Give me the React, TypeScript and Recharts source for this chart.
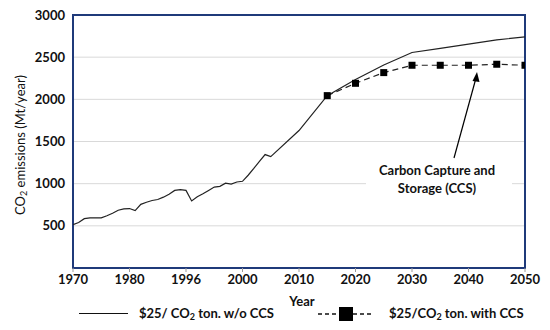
import React from 'react'
import { LineChart, Line, XAxis, YAxis, CartesianGrid, ReferenceArea, Customized } from 'recharts'

// historical + projection without CCS
const histYears = [
  1970, 1971, 1972, 1973, 1974, 1975, 1976, 1977, 1978, 1979, 1980, 1981, 1982, 1983, 1984,
  1985, 1986, 1987, 1988, 1989, 1990, 1991, 1992, 1993, 1994, 1995, 1996, 1997, 1998, 1999,
  2000, 2001, 2002, 2003, 2004, 2005, 2010, 2015, 2020, 2025, 2030, 2035, 2040, 2045, 2050,
]
const histValues = [
  515, 540, 585, 595, 595, 595, 620, 650, 685, 700, 705, 680, 755, 780, 800,
  812, 840, 875, 920, 930, 920, 795, 845, 880, 920, 960, 968, 1005, 995, 1020,
  1028, 1100, 1180, 1265, 1345, 1320, 1630, 2044, 2235, 2408, 2555, 2605, 2655, 2705, 2740,
]

// projection with CCS
const ccsYears = [2015, 2020, 2025, 2030, 2035, 2040, 2045, 2050]
const ccsValues = [2044, 2190, 2317, 2404, 2404, 2404, 2416, 2404]

const xTicks = [1970, 1980, 1990, 2000, 2010, 2020, 2030, 2040, 2050]
const xTickLabels = ['1970', '1980', '1996', '2000', '2010', '2020', '2030', '2040', '2050']
const yTicks = [0, 500, 1000, 1500, 2000, 2500, 3000]

const histData = histYears.map((year, i) => ({ year, value: histValues[i] }))
const ccsData = ccsYears.map((year, i) => ({ year, value: ccsValues[i] }))

const FONT = 'Lato, "Open Sans", sans-serif'

const SquareDot = (props: any) => {
  const { cx, cy, index } = props
  if (cx == null || cy == null) return null
  return <rect key={`sq-${index}`} x={cx - 3.5} y={cy - 3.5} width={7} height={7} fill="#000" />
}

const Extras = () => (
  <g>
    {/* y axis title */}
    <text
      x={20}
      y={145}
      transform="rotate(-90 20 145)"
      textAnchor="middle"
      dominantBaseline="central"
      fontSize={13}
      fill="#111"
    >
      CO<tspan dy={3} fontSize={9}>2</tspan>
      <tspan dy={-3}> emissions (Mt/year)</tspan>
    </text>
    {/* x axis title */}
    <text x={302} y={306} textAnchor="middle" fontSize={13} fontWeight={700} fill="#111">
      Year
    </text>
    {/* annotation */}
    <rect x={366} y={158} width={146} height={40} fill="#fff" />
    <line x1={454} y1={158} x2={476} y2={78} stroke="#000" strokeWidth={1.2} />
    <polygon points="477,72 472.5,81 479.5,82" fill="#000" />
    <text x={437} y={175} textAnchor="middle" fontSize={13} fontWeight={700} fill="#111">
      Carbon Capture and
    </text>
    <text x={437} y={193} textAnchor="middle" fontSize={13} fontWeight={700} fill="#111">
      Storage (CCS)
    </text>
  </g>
)

const legendText: React.CSSProperties = {
  position: 'absolute',
  top: 305,
  fontSize: 13,
  fontWeight: 700,
  color: '#111',
  whiteSpace: 'nowrap',
  lineHeight: '16px',
}

export default function App() {
  return (
    <div style={{ position: 'absolute', left: 0, top: 0, width: 550, height: 330, background: '#fff', fontFamily: FONT }}>
      <LineChart width={550} height={330} margin={{ top: 15, right: 25, bottom: 32, left: 0 }}>
        <CartesianGrid vertical={false} stroke="#d9d9d9" />
        <XAxis
          dataKey="year"
          type="number"
          domain={[1970, 2050]}
          ticks={xTicks}
          tickFormatter={(v: number) => xTickLabels[xTicks.indexOf(v)]}
          axisLine={false}
          tickSize={4}
          tickMargin={3}
          tickLine={{ stroke: '#999' }}
          tick={{ fill: '#111', fontSize: 13, fontWeight: 700 }}
          height={30}
          allowDataOverflow
        />
        <YAxis
          type="number"
          domain={[0, 3000]}
          ticks={yTicks}
          tickFormatter={(v: number) => (v === 0 ? '' : String(v))}
          axisLine={false}
          tickLine={false}
          tickSize={0}
          tickMargin={8}
          tick={{ fill: '#111', fontSize: 13, fontWeight: 700 }}
          width={73}
        />
        <Line
          data={histData}
          dataKey="value"
          stroke="#222"
          strokeWidth={1.2}
          dot={false}
          isAnimationActive={false}
        />
        <Line
          data={ccsData}
          dataKey="value"
          stroke="#222"
          strokeWidth={1.2}
          strokeDasharray="6 4"
          dot={SquareDot}
          isAnimationActive={false}
        />
        <ReferenceArea x1={1970} x2={2050} y1={0} y2={3000} fill="none" stroke="#1f3a7a" strokeWidth={2} ifOverflow="visible" />
        <Customized component={Extras} />
      </LineChart>
      {/* legend */}
      <div style={{ position: 'absolute', left: 79, top: 313, width: 49, height: 0, borderTop: '1.5px solid #111' }} />
      <div style={{ ...legendText, left: 139 }}>
        $25/ CO<sub style={{ fontSize: 9, verticalAlign: -2, lineHeight: 0 }}>2</sub> ton. w/o CCS
      </div>
      <svg style={{ position: 'absolute', left: 314, top: 306 }} width={60} height={16}>
        <line x1={4} y1={8} x2={57} y2={8} stroke="#111" strokeWidth={1.5} strokeDasharray="4 3" />
        <rect x={25} y={1} width={14} height={14} fill="#000" />
      </svg>
      <div style={{ ...legendText, left: 389 }}>
        $25/CO<sub style={{ fontSize: 9, verticalAlign: -2, lineHeight: 0 }}>2</sub> ton. with CCS
      </div>
    </div>
  )
}
